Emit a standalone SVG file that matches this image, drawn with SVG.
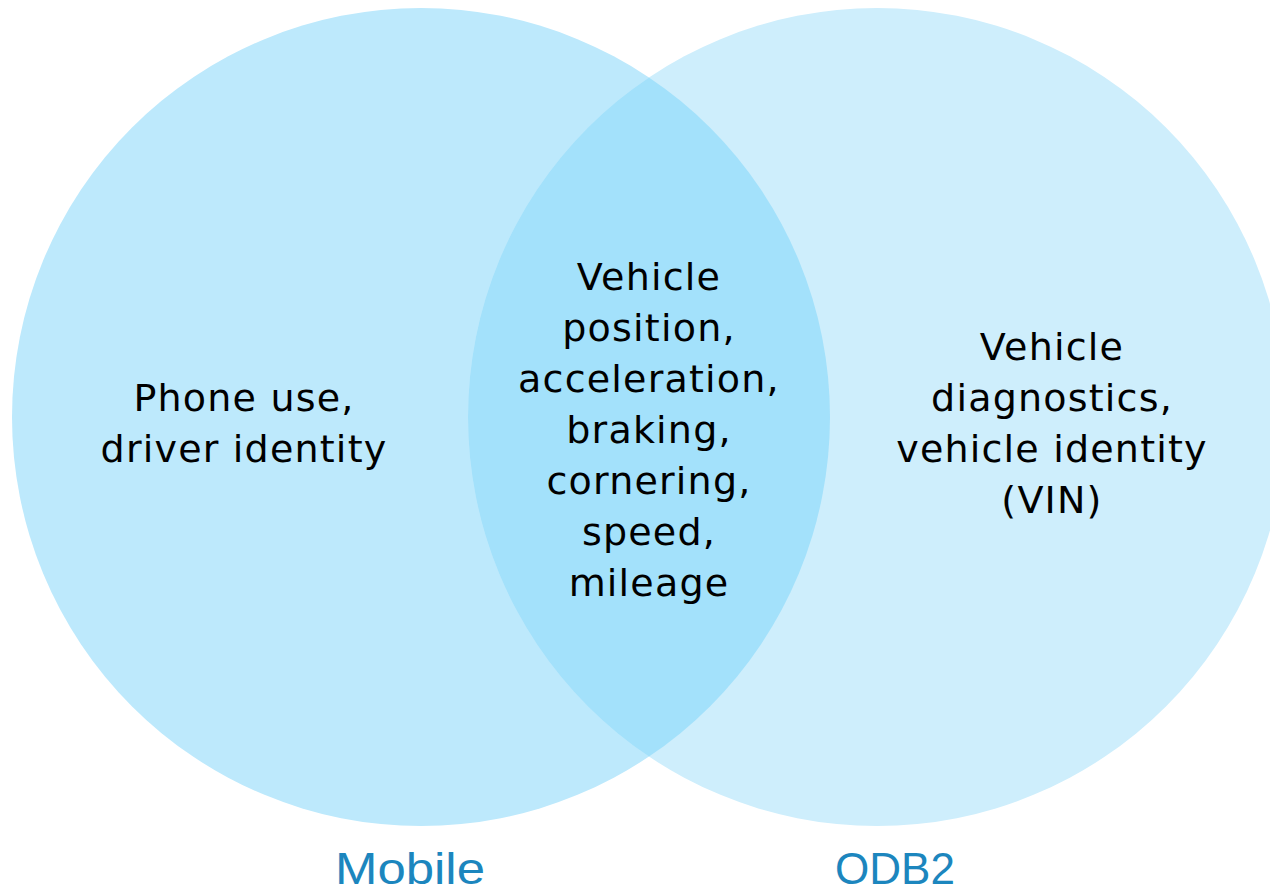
<svg xmlns="http://www.w3.org/2000/svg" width="1270" height="893" viewBox="0 0 1270 893">
<style>
.t{font-family:"DejaVu Sans","Liberation Sans",sans-serif;font-size:38px;letter-spacing:1.2px;fill:#000;text-anchor:middle}
.lab{font-family:"Liberation Sans",sans-serif;font-size:44px;fill:#1C86BE;text-anchor:middle}
</style>
<defs>
<clipPath id="clipL"><circle cx="421" cy="417" r="409"/></clipPath>
</defs>
<rect width="1270" height="893" fill="#ffffff"/>
<g id="mobile">
<circle cx="421" cy="417" r="409" fill="#BDE9FC"/>
</g>
<g id="odb2">
<circle cx="877" cy="417" r="409" fill="#CEEEFC"/>
</g>
<g id="overlap">
<circle cx="877" cy="417" r="409" fill="#A3E1FB" clip-path="url(#clipL)"/>
</g>
<g id="mobile-text">
<text class="t" x="244" y="411">Phone use,</text>
<text class="t" x="244" y="462">driver identity</text>
</g>
<g id="overlap-text">
<text class="t" x="649" y="290">Vehicle</text>
<text class="t" x="649" y="341">position,</text>
<text class="t" x="649" y="392">acceleration,</text>
<text class="t" x="649" y="443">braking,</text>
<text class="t" x="649" y="494">cornering,</text>
<text class="t" x="649" y="545">speed,</text>
<text class="t" x="649" y="596">mileage</text>
</g>
<g id="odb2-text">
<text class="t" x="1052" y="360">Vehicle</text>
<text class="t" x="1052" y="411">diagnostics,</text>
<text class="t" x="1052" y="462">vehicle identity</text>
<text class="t" x="1052" y="513">(VIN)</text>
</g>
<g id="labels">
<text class="lab" x="410" y="884" textLength="150" lengthAdjust="spacingAndGlyphs">Mobile</text>
<text class="lab" x="895" y="884" textLength="120" lengthAdjust="spacingAndGlyphs">ODB2</text>
</g>
<g id="connectors"/>
</svg>
